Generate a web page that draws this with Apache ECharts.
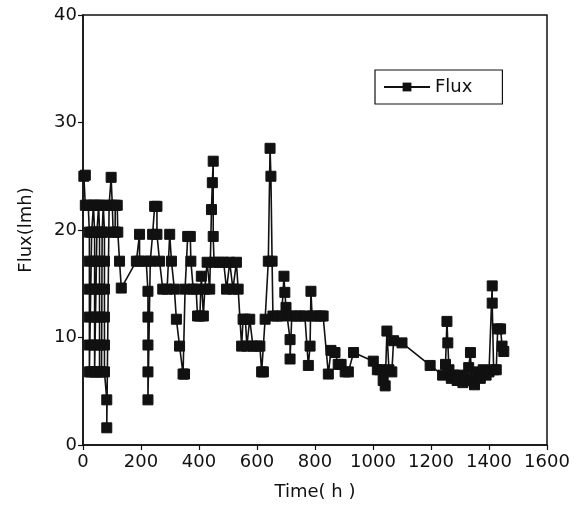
<!DOCTYPE html>
<html>
<head>
<meta charset="utf-8">
<script src="https://cdn.jsdelivr.net/npm/echarts@6/dist/echarts.min.js"></script>
<style>
  html, body { margin: 0; padding: 0; background: #fff; }
  #chart { width: 583px; height: 506px; }
</style>
</head>
<body>
<div id="chart"></div>
<script>
// Time (h) and Flux (lmh), in measurement order
const fluxTime = [
  3, 8, 8, 18, 22, 22, 22, 22, 22, 22, 22, 28, 30, 36,
  40, 40, 40, 40, 40, 40, 40, 46, 48, 54,
  57, 57, 57, 57, 57, 57, 57, 64, 66, 70,
  74, 74, 74, 74, 74, 74, 82, 82, 90, 97, 101, 104, 111, 111, 118, 120,
  126, 132, 184, 195, 195, 218, 224, 224, 224, 224, 224, 232, 240, 247,
  255, 255, 264, 275, 290, 299, 305, 315, 322, 333, 345, 350, 352, 361,
  370, 372, 380, 390, 395, 403, 408, 415, 420, 428, 437, 443, 446, 449,
  449, 452, 470, 485, 495, 506, 517, 529, 535, 547, 552, 560, 565, 575,
  586, 600, 610, 616, 622, 628, 639, 645, 648, 652, 655, 670, 685, 693,
  696, 700, 714, 714, 720, 735, 750, 765, 777, 783, 786, 790, 805, 820,
  828, 846, 855, 869, 880, 890, 904, 915, 933, 1001, 1015, 1025, 1035, 1042,
  1048, 1055, 1065, 1071, 1100, 1197, 1240, 1250, 1255, 1258, 1262, 1270, 1280, 1290,
  1300, 1310, 1320, 1330, 1336, 1340, 1350, 1360, 1370, 1380, 1390, 1400, 1411, 1411,
  1416, 1425, 1430, 1440, 1445, 1451
];
const fluxValue = [
  25.0, 25.1, 22.3, 22.3, 22.3, 19.8, 17.1, 14.5, 11.9, 9.3, 6.8, 6.8, 19.8, 22.3,
  22.3, 19.8, 17.1, 14.5, 11.9, 9.3, 6.8, 6.8, 19.8, 22.3,
  22.3, 19.8, 17.1, 14.5, 11.9, 9.3, 6.8, 6.8, 19.8, 22.3,
  19.8, 17.1, 14.5, 11.9, 9.3, 6.8, 4.2, 1.6, 22.3, 24.9, 22.3, 19.8, 19.8, 22.3, 22.3, 19.8,
  17.1, 14.6, 17.1, 19.6, 17.1, 17.1, 14.3, 11.9, 9.3, 6.8, 4.2, 17.1, 19.6, 22.2,
  22.2, 19.6, 17.1, 14.5, 14.5, 19.6, 17.1, 14.5, 11.7, 9.2, 6.6, 6.6, 14.5, 19.4,
  19.4, 17.1, 14.5, 14.5, 12.0, 12.0, 15.7, 12.0, 14.5, 17.0, 14.5, 21.9, 24.4, 26.4,
  19.4, 17.0, 17.0, 17.0, 14.5, 17.0, 14.5, 17.0, 14.5, 9.2, 11.7, 11.7, 9.2, 11.7,
  9.2, 9.2, 9.2, 6.8, 6.8, 11.7, 17.1, 27.6, 25.0, 17.1, 12.0, 12.0, 12.0, 15.7,
  14.2, 12.8, 9.8, 8.0, 12.0, 12.0, 12.0, 12.0, 7.4, 9.2, 14.3, 12.0, 12.0, 12.0,
  12.0, 6.6, 8.8, 8.6, 7.5, 7.5, 6.8, 6.8, 8.6, 7.8, 7.0, 7.0, 6.0, 5.5,
  10.6, 7.0, 6.8, 9.7, 9.5, 7.4, 6.5, 7.5, 11.5, 9.5, 7.0, 6.2, 6.5, 6.0,
  6.5, 5.8, 6.2, 7.2, 8.6, 6.0, 5.6, 6.8, 6.2, 7.0, 6.5, 6.8, 14.8, 13.2,
  7.0, 7.0, 10.8, 10.8, 9.2, 8.7
];
const xTicks = [0, 200, 400, 600, 800, 1000, 1200, 1400, 1600];
const yTicks = [0, 10, 20, 30, 40];

const seriesData = fluxTime.map((t, i) => [t, fluxValue[i]]);
const FONT = 'DejaVu Sans';

const chart = echarts.init(document.getElementById('chart'), null, { renderer: 'canvas' });
chart.setOption({
  animation: false,
  backgroundColor: '#fff',
  grid: {
    left: 83, right: 36, top: 15, bottom: 60,
    show: true, borderColor: '#111', borderWidth: 1.5, backgroundColor: 'transparent'
  },
  legend: {
    data: ['Flux'],
    left: 375, top: 70,
    orient: 'horizontal',
    padding: [8, 30, 8, 8],
    borderColor: '#111', borderWidth: 1.2,
    itemWidth: 46, itemHeight: 11,
    itemGap: 8,
    textStyle: { fontFamily: FONT, fontSize: 18, color: '#111' }
  },
  xAxis: {
    type: 'value',
    min: xTicks[0], max: xTicks[xTicks.length - 1], interval: 200,
    name: 'Time( h )',
    nameLocation: 'middle', nameGap: 38,
    nameTextStyle: { fontFamily: FONT, fontSize: 18, color: '#111' },
    axisLine: { show: true, lineStyle: { color: '#111', width: 1.5 } },
    axisTick: { show: true, inside: false, length: 5, lineStyle: { color: '#111', width: 1.2 } },
    axisLabel: { fontFamily: FONT, fontSize: 18, color: '#111', margin: 8, formatter: v => String(v) },
    splitLine: { show: false }
  },
  yAxis: {
    type: 'value',
    min: yTicks[0], max: yTicks[yTicks.length - 1], interval: 10,
    name: 'Flux(lmh)',
    nameLocation: 'middle', nameGap: 48,
    nameTextStyle: { fontFamily: FONT, fontSize: 18, color: '#111' },
    axisLine: { show: true, lineStyle: { color: '#111', width: 1.5 } },
    axisTick: { show: true, inside: false, length: 5, lineStyle: { color: '#111', width: 1.2 } },
    axisLabel: { fontFamily: FONT, fontSize: 18, color: '#111', margin: 6, formatter: v => String(v) },
    splitLine: { show: false }
  },
  series: [{
    name: 'Flux',
    type: 'line',
    data: seriesData,
    symbol: 'rect',
    symbolSize: 10,
    showAllSymbol: true,
    itemStyle: { color: '#111', borderColor: '#111' },
    lineStyle: { color: '#111', width: 1.6 }
  }]
});
</script>
</body>
</html>
